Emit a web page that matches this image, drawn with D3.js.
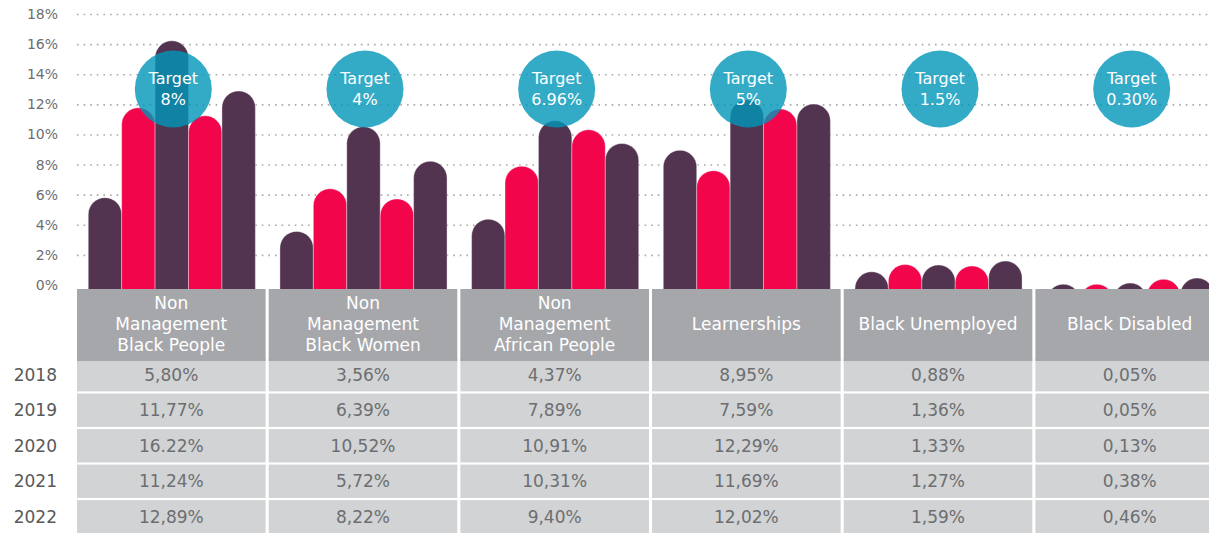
<!DOCTYPE html>
<html>
<head>
<meta charset="utf-8">
<script src="https://cdn.jsdelivr.net/npm/d3@7"></script>
<style>
  html, body { margin: 0; padding: 0; background: #fff; }
  #chart { width: 1209px; height: 533px; overflow: hidden; }
  svg { display: block; font-family: "DejaVu Sans", sans-serif; }
</style>
</head>
<body>
<div id="chart"></div>
<script>
var App = App || {};

// header of each column, one entry per line
const categories = [
  ["Non", "Management", "Black People"],
  ["Non", "Management", "Black Women"],
  ["Non", "Management", "African People"],
  ["Learnerships"],
  ["Black Unemployed"],
  ["Black Disabled"]
];
const years = ["2018", "2019", "2020", "2021", "2022"];

// table cells as printed, bars are read from them
const row2018 = ["5,80%", "3,56%", "4,37%", "8,95%", "0,88%", "0,05%"];
const row2019 = ["11,77%", "6,39%", "7,89%", "7,59%", "1,36%", "0,05%"];
const row2020 = ["16.22%", "10,52%", "10,91%", "12,29%", "1,33%", "0,13%"];
const row2021 = ["11,24%", "5,72%", "10,31%", "11,69%", "1,27%", "0,38%"];
const row2022 = ["12,89%", "8,22%", "9,40%", "12,02%", "1,59%", "0,46%"];
const rows = [row2018, row2019, row2020, row2021, row2022];

const targets = ["8%", "4%", "6.96%", "5%", "1.5%", "0.30%"];
const yTicks = [0, 2, 4, 6, 8, 10, 12, 14, 16, 18];

(function() {
  let svg, x, x1, y, yRow;

  const W = 1209, H = 533;
  const tableTop = 289, headerBottom = 361;
  const colors = ["#533450", "#f2054b", "#533450", "#f2054b", "#533450"];

  App.init = function() {
    svg = d3.select("#chart").append("svg")
      .attr("width", W)
      .attr("height", H);

    x = d3.scaleBand()
      .domain(d3.range(categories.length))
      .range([77, 1224])
      .paddingInner(0.016);

    x1 = d3.scaleBand()
      .domain(years)
      .range([0, x.bandwidth() * 0.886]);

    y = d3.scaleLinear()
      .domain([0, 18])
      .range([285, 14]);

    yRow = d3.scaleBand()
      .domain(years)
      .range([358, 533.5])
      .paddingInner(0.06);

    drawAxis();
    drawBars();
    drawTargets();
    drawTable();
  };

  function value(s) {
    return parseFloat(s.replace(",", ".").replace("%", ""));
  }

  function drawAxis() {
    let axis = d3.axisLeft(y)
      .tickValues(yTicks)
      .tickFormat(d => d + "%")
      .tickSize(-(W - 77))
      .tickPadding(19);

    let g = svg.append("g")
      .attr("transform", "translate(77,0)")
      .call(axis);

    g.select(".domain").remove();
    g.selectAll(".tick line")
      .attr("stroke", "#a9a9a9")
      .attr("stroke-width", 1.6)
      .attr("stroke-dasharray", "1.6,5")
      .filter(d => d === 0).remove();
    g.selectAll(".tick text")
      .attr("fill", "#6d6e71")
      .style("font-size", "14px")
      .style("font-family", "DejaVu Sans, sans-serif");
  }

  function barPath(x0, top, w, base) {
    let r = w / 2;
    let b = Math.max(base, top + r);
    return "M" + x0 + "," + b +
      "L" + x0 + "," + (top + r) +
      "A" + r + "," + r + " 0 0 1 " + (x0 + w) + "," + (top + r) +
      "L" + (x0 + w) + "," + b + "Z";
  }

  function drawBars() {
    svg.append("clipPath")
      .attr("id", "plot-clip")
      .append("rect")
      .attr("x", 0).attr("y", 0)
      .attr("width", W).attr("height", tableTop);

    let data = [];
    categories.forEach(function(c, i) {
      years.forEach(function(yr, j) {
        data.push({ cat: i, year: yr, idx: j, v: value(rows[j][i]) });
      });
    });

    let off = (x.bandwidth() - x1.range()[1]) / 2 + 0.5;

    svg.append("g")
      .attr("clip-path", "url(#plot-clip)")
      .selectAll(".bar")
      .data(data)
      .enter().append("path")
      .attr("class", "bar")
      .attr("d", d => barPath(x(d.cat) + off + x1(d.year), y(d.v), x1.bandwidth(), tableTop + 2))
      .attr("fill", d => colors[d.idx])
      .attr("stroke", "rgba(255,255,255,0.45)")
      .attr("stroke-width", 0.8);
  }

  function drawTargets() {
    let g = svg.append("g")
      .selectAll(".target")
      .data(targets)
      .enter().append("g")
      .attr("class", "target")
      .attr("transform", (d, i) => "translate(" + (x(i) + x.bandwidth() / 2 + 2) + ",89)");

    g.append("circle")
      .attr("r", 38.5)
      .attr("fill", "rgb(0,150,185)")
      .attr("fill-opacity", 0.8);

    g.append("text")
      .attr("y", -11)
      .attr("text-anchor", "middle")
      .attr("dominant-baseline", "central")
      .attr("fill", "#fff")
      .style("font-size", "16px")
      .text("Target");

    g.append("text")
      .attr("y", 10)
      .attr("text-anchor", "middle")
      .attr("dominant-baseline", "central")
      .attr("fill", "#fff")
      .style("font-size", "16px")
      .text(d => d);
  }

  function drawTable() {
    let t = svg.append("g");

    // body rows
    years.forEach(function(yr, j) {
      t.selectAll(".cell-" + yr)
        .data(categories)
        .enter().append("rect")
        .attr("x", (d, i) => x(i))
        .attr("y", yRow(yr))
        .attr("width", x.bandwidth())
        .attr("height", yRow.bandwidth())
        .attr("fill", "#d1d3d4");

      t.selectAll(".val-" + yr)
        .data(rows[j])
        .enter().append("text")
        .attr("x", (d, i) => x(i) + x.bandwidth() / 2)
        .attr("y", yRow(yr) + yRow.bandwidth() / 2)
        .attr("text-anchor", "middle")
        .attr("dominant-baseline", "central")
        .attr("fill", "#6d6e71")
        .style("font-size", "17px")
        .text(d => d);

      t.append("text")
        .attr("x", 57)
        .attr("y", yRow(yr) + yRow.bandwidth() / 2)
        .attr("text-anchor", "end")
        .attr("dominant-baseline", "central")
        .attr("fill", "#58595b")
        .style("font-size", "17px")
        .text(yr);
    });

    // header
    let head = t.selectAll(".head")
      .data(categories)
      .enter().append("g")
      .attr("class", "head");

    head.append("rect")
      .attr("x", (d, i) => x(i))
      .attr("y", tableTop)
      .attr("width", x.bandwidth())
      .attr("height", headerBottom - tableTop)
      .attr("fill", "#a6a7ab");

    head.each(function(lines, i) {
      let mid = (tableTop + headerBottom) / 2 - 1.2;
      d3.select(this).selectAll("text")
        .data(lines)
        .enter().append("text")
        .attr("x", x(i) + x.bandwidth() / 2)
        .attr("y", (d, k) => mid + (k - (lines.length - 1) / 2) * 21.3)
        .attr("text-anchor", "middle")
        .attr("dominant-baseline", "central")
        .attr("fill", "#fff")
        .style("font-size", "17px")
        .text(d => d);
    });
  }
})();

App.init();
</script>
</body>
</html>
